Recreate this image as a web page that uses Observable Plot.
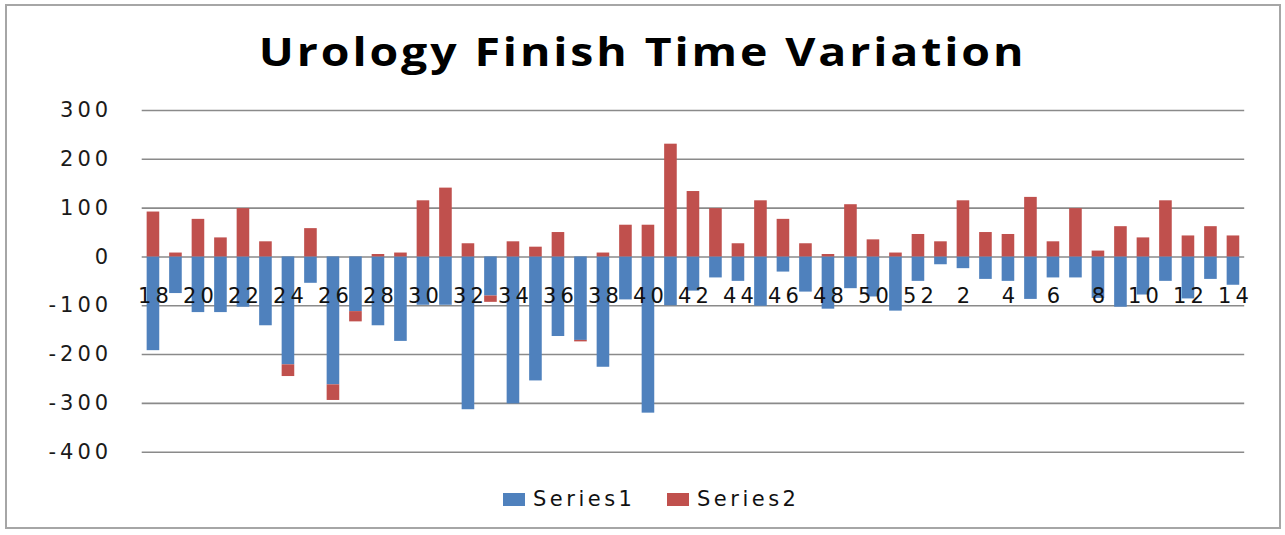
<!DOCTYPE html>
<html>
<head>
<meta charset="utf-8">
<script src="https://cdn.jsdelivr.net/npm/d3@7"></script>
<script src="https://cdn.jsdelivr.net/npm/@observablehq/plot@0.6"></script>
<style>
  html, body { margin: 0; padding: 0; background: #fff; }
  body { width: 1285px; height: 535px; position: relative; overflow: hidden; }
  #frame { position: absolute; left: 5px; top: 4px; width: 1276px; height: 525px; border: 2px solid #a6a6a6; box-sizing: border-box; }
  #title { position: absolute; left: 0; width: 1285px; top: 23px; text-align: center; font-family: "Open Sans", sans-serif; font-weight: 700; font-size: 40px; letter-spacing: 2.5px; color: #000; transform: scaleX(1.16); transform-origin: 642px 0; }
  #chart { position: absolute; left: 0; top: 0; }
  #legend { position: absolute; top: 487px; left: 0; width: 1285px; font-family: "DejaVu Sans", sans-serif; font-size: 21px; letter-spacing: 3.5px; color: #111; }
  .key { position: absolute; top: 0; display: flex; align-items: center; }
  .sw { width: 22px; height: 13px; margin-right: 8px; }
</style>
</head>
<body>
<div id="frame"></div>
<div id="title">Urology Finish Time Variation</div>
<div id="chart"></div>
<div id="legend"></div>
<script>
// categories (week numbers)
const categories = ["18","19","20","21","22","23","24","25","26","27","28","29","30","31","32","33","34","35","36","37","38","39","40","41","42","43","44","45","46","47","48","49","50","51","52","1","2","3","4","5","6","7","8","9","10","11","12","13","14"];
const series1 = [-192,-75,-114,-114,-103,-141,-221,-54,-262,-112,-141,-173,-99,-99,-313,-80,-301,-254,-163,-171,-226,-88,-320,-100,-70,-43,-50,-101,-31,-72,-107,-65,-82,-111,-50,-16,-24,-46,-50,-87,-43,-43,-85,-103,-78,-50,-86,-46,-58];
const series2 = [92,8,77,39,99,31,-24,58,-32,-21,5,8,115,141,27,-13,31,20,50,-3,8,65,65,231,134,99,27,115,77,27,5,107,35,8,46,31,115,50,46,122,31,99,12,62,39,115,43,62,43];
const seriesNames = ["Series1","Series2"];
const seriesColors = ["#4F81BD","#C0504D"];
const yTicks = [300,200,100,0,-100,-200,-300,-400];
const xTickLabels = ["18","20","22","24","26","28","30","32","34","36","38","40","42","44","46","48","50","52","2","4","6","8","10","12","14"];

const rows = [];
categories.forEach((c, i) => {
  rows.push({cat: c, series: seriesNames[0], value: series1[i]});
  rows.push({cat: c, series: seriesNames[1], value: series2[i]});
});

const chart = Plot.plot({
  width: 1285,
  height: 480,
  marginTop: 110,
  marginBottom: 28.3,
  marginLeft: 141.7,
  marginRight: 40.8,
  x: {domain: categories, paddingInner: 0.44, paddingOuter: 0.22, round: false, axis: null},
  y: {domain: [-400, 300], axis: null},
  color: {domain: seriesNames, range: seriesColors},
  style: {background: "transparent"},
  marks: [
    Plot.ruleY(yTicks, {stroke: "#8a8a8a", strokeWidth: 1.6}),
    Plot.barY(rows, Plot.stackY({x: "cat", y: "value", fill: "series", order: seriesNames})),
    Plot.text(yTicks, {y: d => d, text: d => String(d), frameAnchor: "left", textAnchor: "end", dx: -30, fontSize: 21, fill: "#1a1a1a", fontFamily: "DejaVu Sans, sans-serif"}),
    Plot.text(xTickLabels, {x: d => d, y: 0, text: d => d, dy: 39, dx: 2, textAnchor: "middle", fontSize: 21, fill: "#111", fontFamily: "DejaVu Sans, sans-serif"})
  ]
});
document.getElementById("chart").appendChild(chart);

// wide letter spacing like the original labels
chart.querySelectorAll("text").forEach(t => { t.style.letterSpacing = "4px"; });

// legend
const legend = document.getElementById("legend");
const legendX = [503, 667];
seriesNames.forEach((s, i) => {
  const k = document.createElement("div");
  k.className = "key";
  k.style.left = legendX[i] + "px";
  const sw = document.createElement("div");
  sw.className = "sw";
  sw.style.background = seriesColors[i];
  const tx = document.createElement("span");
  tx.textContent = s;
  k.appendChild(sw); k.appendChild(tx);
  legend.appendChild(k);
});
</script>
</body>
</html>
